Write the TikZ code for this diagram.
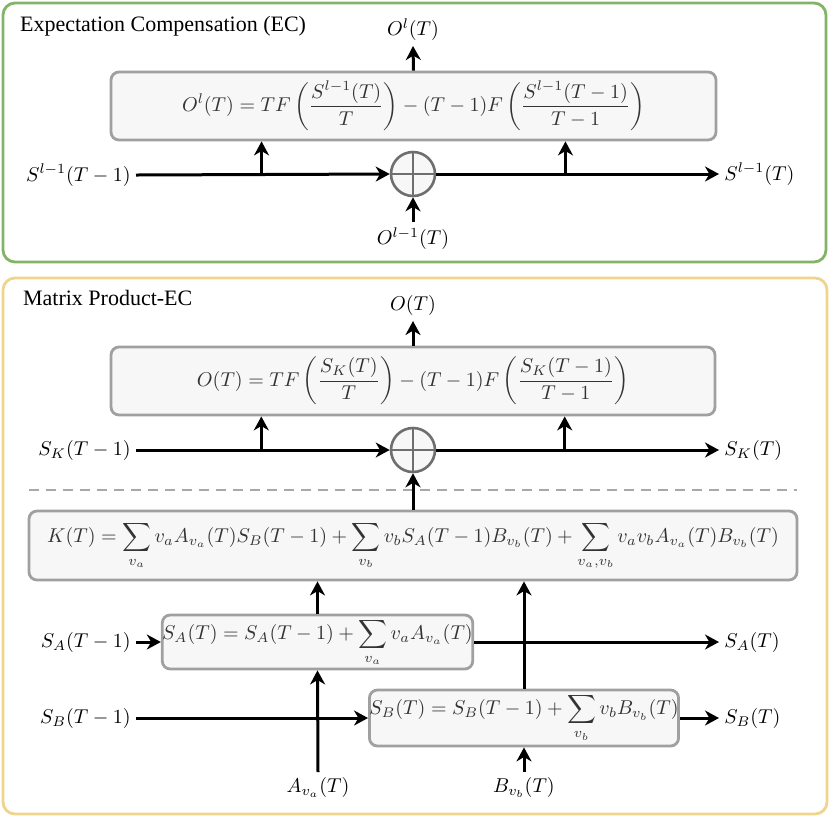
\documentclass[tikz,border=0pt]{standalone}
\usepackage{fontspec}
\newfontfamily\titlefont{Liberation Serif}
\usetikzlibrary{arrows.meta,calc}
\definecolor{ecgreen}{HTML}{82B366}
\definecolor{mpyellow}{HTML}{EED48C}
\definecolor{boxgray}{HTML}{A0A0A0}
\definecolor{boxfill}{HTML}{F7F7F7}
\definecolor{plusgray}{HTML}{6E6E6E}
\definecolor{dashgray}{HTML}{A8A8A8}
\begin{document}
\begin{tikzpicture}[x=0.5pt,y=-0.5pt,
  frm/.style={draw=boxgray, fill=boxfill, rounded corners=4pt, line width=1.4pt, text=black!80, inner sep=0pt},
  lbl/.style={inner sep=2.5pt},
  arr/.style={-{Stealth[length=7pt,width=7.5pt,inset=2.2pt]}, line width=1.5pt},
  plus/.style={circle, draw=plusgray, fill=boxfill, line width=1.3pt, minimum size=22pt, inner sep=0pt,
    path picture={\draw[plusgray, line width=1.3pt] (path picture bounding box.north) -- (path picture bounding box.south)
      (path picture bounding box.west) -- (path picture bounding box.east);}},
  sect/.style={rounded corners=6pt, line width=1.4pt},
  ttl/.style={anchor=west, font=\titlefont\fontsize{11}{13}\selectfont}]
\useasboundingbox (0,0) rectangle (830,821);
% the two sections
\draw[sect, draw=ecgreen] (3,3) rectangle (826,262);
\draw[sect, draw=mpyellow] (3,278) rectangle (827,814);
\node[ttl] (ectitle) at (13,26) {Expectation Compensation (EC)};
\node[ttl] (mptitle) at (16,298) {Matrix Product-EC};

% expectation compensation
\node[frm, minimum width=302.5pt, minimum height=34pt] (ecf) at (413.5,106)
  {$\displaystyle O^l(T) = TF\left(\frac{S^{l-1}(T)}{T}\right) - (T-1)F\left(\frac{S^{l-1}(T-1)}{T-1}\right)$};
\node[plus] (ecp) at (413,174) {};
\node[lbl, anchor=east] (ecin) at (136,175) {$S^{l-1}(T-1)$};
\node[lbl, anchor=west] (ecout) at (719,174) {$S^{l-1}(T)$};
\node[lbl, anchor=south] (eco) at (413,46) {$O^l(T)$};
\node[lbl, anchor=north] (eci) at (413,222) {$O^{l-1}(T)$};
\draw[arr] (ecin.east) -- (ecp.west);
\draw[arr] (ecp.east) -- (ecout.west);
\draw[arr] (ecf.north) -- (eco.south);
\draw[arr] (eci.north) -- (ecp.south);
\coordinate (ecb1) at ($(ecf.south west)!0.25!(ecf.south east)$);
\coordinate (ecb2) at ($(ecf.south west)!0.75!(ecf.south east)$);
\draw[arr] (ecb1 |- ecp) -- (ecb1);
\draw[arr] (ecb2 |- ecp) -- (ecb2);

% matrix product
\node[frm, minimum width=302pt, minimum height=34pt] (mpf) at (413,381)
  {$\displaystyle O(T) = TF\left(\frac{S_K(T)}{T}\right) - (T-1)F\left(\frac{S_K(T-1)}{T-1}\right)$};
\node[plus] (mpp) at (413,450) {};
\node[lbl, anchor=east] (skin) at (136,450) {$S_K(T-1)$};
\node[lbl, anchor=west] (skout) at (719,450) {$S_K(T)$};
\node[lbl, anchor=south] (mpo) at (413,321) {$O(T)$};
\draw[arr] (skin.east) -- (mpp.west);
\draw[arr] (mpp.east) -- (skout.west);
\draw[arr] (mpf.north) -- (mpo.south);
\coordinate (mpb1) at ($(mpf.south west)!0.25!(mpf.south east)$);
\coordinate (mpb2) at ($(mpf.south west)!0.75!(mpf.south east)$);
\draw[arr] (mpb1 |- mpp) -- (mpb1);
\draw[arr] (mpb2 |- mpp) -- (mpb2);
\draw[dashgray, line width=1.4pt, dash pattern=on 5pt off 3.5pt] (29,490) -- (797,490);

\node[frm, minimum width=384pt, minimum height=34.5pt] (kf) at (413,545.5)
  {$\displaystyle K(T) = \sum_{v_a} v_a A_{v_a}(T) S_B(T-1) + \sum_{v_b} v_b S_A(T-1) B_{v_b}(T) + \sum_{v_a,v_b} v_a v_b A_{v_a}(T) B_{v_b}(T)$};
\draw[arr] (kf.north) -- (mpp.south);

\node[frm, minimum width=151.5pt, minimum height=27pt] (saf) at (317.5,642)
  {$\displaystyle S_A(T) = S_A(T-1) + \sum_{v_a} v_a A_{v_a}(T)$};
\node[frm, minimum width=152pt, minimum height=28pt] (sbf) at (524,718)
  {$\displaystyle S_B(T) = S_B(T-1) + \sum_{v_b} v_b B_{v_b}(T)$};
\node[lbl, anchor=east] (sain) at (136,642) {$S_A(T-1)$};
\node[lbl, anchor=east] (sbin) at (136,718) {$S_B(T-1)$};
\node[lbl, anchor=west] (saout) at (719,642) {$S_A(T)$};
\node[lbl, anchor=west] (sbout) at (719,718) {$S_B(T)$};
\node[lbl, anchor=north] (ain) at (318,772) {$A_{v_a}(T)$};
\node[lbl, anchor=north] (bin) at (524,772) {$B_{v_b}(T)$};
\draw[arr] (sain.east) -- (saf.west);
\draw[arr] (saf.east) -- (saout.west);
\draw[arr] (sbin.east) -- (sbf.west);
\draw[arr] (sbf.east) -- (sbout.west);
\draw[arr] (ain.north) -- (saf.south);
\draw[arr] (bin.north) -- (sbf.south);
\draw[arr] (saf.north) -- (saf.north |- kf.south);
\draw[arr] (sbf.north) -- (sbf.north |- kf.south);
\end{tikzpicture}
\end{document}
